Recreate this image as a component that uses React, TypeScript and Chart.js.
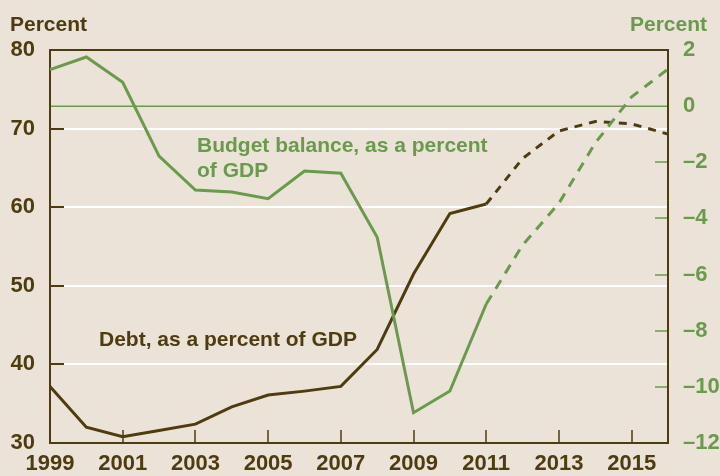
import { useEffect, useRef } from "react";
import { Chart, registerables } from "chart.js";

Chart.register(...registerables);

const years = [1999, 2000, 2001, 2002, 2003, 2004, 2005, 2006, 2007, 2008, 2009, 2010, 2011, 2012, 2013, 2014, 2015, 2016];
const debt = [37.2, 32.0, 30.8, 31.6, 32.4, 34.6, 36.1, 36.6, 37.2, 41.9, 51.5, 59.2, 60.4, 66.2, 69.7, 70.9, 70.6, 69.3];
const budget = [1.3, 1.75, 0.85, -1.78, -2.99, -3.06, -3.3, -2.31, -2.39, -4.67, -10.92, -10.15, -7.05, -4.95, -3.46, -1.31, 0.33, 1.32];
const projectionStartIndex = 12;
const leftGridValues = [40, 50, 60, 70];
const rightTickValues = [-10, -8, -6, -4, -2];
const labeledYears = [1999, 2001, 2003, 2005, 2007, 2009, 2011, 2013, 2015];
const leftTitle = "Percent";
const rightTitle = "Percent";
const budgetLabel = ["Budget balance, as a percent", "of GDP"];
const debtLabel = "Debt, as a percent of GDP";

const BG = "#EBE3D7";
const DARK = "#4E3C10";
const GREEN = "#6A9A4C";
const FONT = '"Liberation Sans", Arial, sans-serif';

export default function App() {
  const ref = useRef<HTMLCanvasElement | null>(null);

  useEffect(() => {
    if (!ref.current) return;

    const decor = {
      id: "decor",
      beforeDraw(chart: any) {
        const c = chart.ctx;
        c.save();
        c.fillStyle = BG;
        c.fillRect(0, 0, chart.width, chart.height);
        c.restore();
      },
      beforeDatasetsDraw(chart: any) {
        const c = chart.ctx;
        const a = chart.chartArea;
        const y = chart.scales.y;
        const y2 = chart.scales.y2;
        const x = chart.scales.x;
        c.save();
        // white gridlines
        c.strokeStyle = "#FFFFFF";
        c.lineWidth = 2;
        leftGridValues.forEach((v) => {
          const py = Math.round(y.getPixelForValue(v));
          c.beginPath();
          c.moveTo(a.left + 14, py);
          c.lineTo(a.right, py);
          c.stroke();
          // dark tick
        });
        c.strokeStyle = DARK;
        c.lineWidth = 2;
        leftGridValues.forEach((v) => {
          const py = Math.round(y.getPixelForValue(v));
          c.beginPath();
          c.moveTo(a.left, py);
          c.lineTo(a.left + 14, py);
          c.stroke();
        });
        // zero line
        c.strokeStyle = GREEN;
        c.lineWidth = 1.5;
        const z = y2.getPixelForValue(0);
        c.beginPath();
        c.moveTo(a.left, z);
        c.lineTo(a.right, z);
        c.stroke();
        // right ticks
        c.lineWidth = 1.5;
        rightTickValues.forEach((v) => {
          const py = Math.round(y2.getPixelForValue(v));
          c.beginPath();
          c.moveTo(a.right - 13, py);
          c.lineTo(a.right, py);
          c.stroke();
        });
        // bottom ticks
        c.strokeStyle = DARK;
        c.lineWidth = 1.5;
        labeledYears.forEach((yr) => {
          const idx = years.indexOf(yr);
          if (idx <= 0) return;
          const px = Math.round(x.getPixelForValue(idx));
          c.beginPath();
          c.moveTo(px, a.bottom);
          c.lineTo(px, a.bottom - 13);
          c.stroke();
        });
        // frame
        c.strokeStyle = DARK;
        c.lineWidth = 2;
        c.strokeRect(a.left, a.top, a.right - a.left, a.bottom - a.top);
        c.restore();
      },
      afterDraw(chart: any) {
        const c = chart.ctx;
        c.save();
        c.font = "bold 21px " + FONT;
        c.textBaseline = "alphabetic";
        c.fillStyle = DARK;
        c.textAlign = "left";
        c.fillText(leftTitle, 10, 31);
        c.fillText(debtLabel, 99, 346);
        c.fillStyle = GREEN;
        c.fillText(budgetLabel[0], 197, 152);
        c.fillText(budgetLabel[1], 197, 177);
        c.textAlign = "right";
        c.fillText(rightTitle, 707, 31);
        c.restore();
      },
    };

    const chart = new Chart(ref.current, {
      type: "line",
      data: {
        labels: years.map(String),
        datasets: [
          {
            data: budget,
            yAxisID: "y2",
            borderColor: GREEN,
            borderWidth: 3,
            pointRadius: 0,
            tension: 0,
            fill: false,
            segment: {
              borderDash: (ctx: any) => (ctx.p0DataIndex >= projectionStartIndex ? [10, 8] : undefined),
            },
          },
          {
            data: debt,
            yAxisID: "y",
            borderColor: DARK,
            borderWidth: 3,
            pointRadius: 0,
            tension: 0,
            fill: false,
            segment: {
              borderDash: (ctx: any) => (ctx.p0DataIndex >= projectionStartIndex ? [8, 7] : undefined),
            },
          },
        ],
      },
      options: {
        responsive: false,
        animation: false,
        layout: { padding: { top: 50, left: 0, right: 0, bottom: 0 } },
        plugins: { legend: { display: false }, tooltip: { enabled: false }, title: { display: false } },
        scales: {
          x: {
            type: "category",
            offset: false,
            grid: { display: false, drawTicks: false },
            border: { display: false },
            ticks: {
              autoSkip: false,
              maxRotation: 0,
              minRotation: 0,
              padding: 8,
              color: DARK,
              font: { family: FONT, size: 22, weight: "bold" },
              callback: (_v: any, i: number) => (labeledYears.includes(years[i]) ? String(years[i]) : ""),
            },
            afterFit: (s: any) => {
              s.height = 33;
            },
          },
          y: {
            type: "linear",
            position: "left",
            min: 30,
            max: 80,
            grid: { display: false, drawTicks: false },
            border: { display: false },
            ticks: {
              stepSize: 10,
              padding: 15,
              color: DARK,
              font: { family: FONT, size: 22, weight: "bold" },
            },
            afterFit: (s: any) => {
              s.width = 50;
            },
          },
          y2: {
            type: "linear",
            position: "right",
            min: -12,
            max: 2,
            grid: { display: false, drawTicks: false },
            border: { display: false },
            ticks: {
              stepSize: 2,
              padding: 15,
              color: GREEN,
              font: { family: FONT, size: 22, weight: "bold" },
              callback: (v: any) => (Number(v) < 0 ? "\u2013" + Math.abs(Number(v)) : String(v)),
            },
            afterFit: (s: any) => {
              s.width = 52;
            },
          },
        },
      },
      plugins: [decor],
    } as any);

    return () => chart.destroy();
  }, []);

  return (
    <div style={{ position: "absolute", left: 0, top: 0, width: 720, height: 476, background: BG }}>
      <canvas ref={ref} width={720} height={476} style={{ display: "block" }} />
    </div>
  );
}
